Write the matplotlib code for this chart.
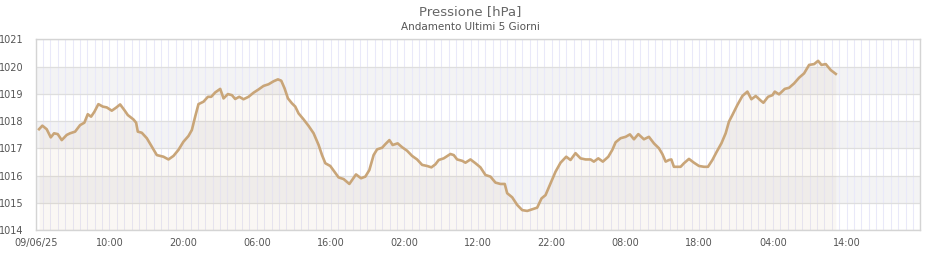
import matplotlib
matplotlib.use('Agg')
from matplotlib import pyplot as plt
import numpy as np

# ore dall'inizio (09/06/25 00:00) e pressione in hPa
ore = [0.45, 0.90, 1.49, 2.04, 2.49, 2.99, 3.53, 4.21, 4.66, 5.34, 6.02, 6.60, 7.06, 7.51, 7.96,
       8.50, 9.10, 9.64, 10.32, 10.90, 11.45, 12.03, 12.49, 13.25, 13.62, 13.85, 14.39, 15.07,
       15.75, 16.43, 17.33, 18.01, 18.69, 19.36, 20.04, 20.72, 21.18, 21.63, 22.08, 22.76, 23.36,
       23.81, 24.35, 25.03, 25.48, 26.07, 26.62, 27.06, 27.61, 28.19,
       28.87, 29.55, 30.23, 30.91, 31.59, 32.27, 32.86, 33.31, 33.76, 34.22, 34.76, 35.21, 35.66,
       36.34, 37.02, 37.70, 38.38, 38.84, 39.29, 39.96, 40.41, 41.09, 41.77, 42.55, 42.99, 43.45,
       44.13, 44.72, 45.26, 45.84, 46.31, 46.99, 47.43, 47.98, 48.42, 49.10, 49.70, 50.38, 51.06,
       51.74, 52.42, 53.10, 53.68, 54.22, 54.67,
       55.35, 56.26, 56.71, 57.17, 57.85, 58.30, 58.98, 59.66, 60.33, 61.01, 61.69, 62.37, 63.05,
       63.63, 63.96, 64.64, 65.32, 66.00, 66.68, 67.35, 68.03, 68.62, 69.16, 69.84, 70.52, 71.20,
       71.97, 72.55, 73.23, 73.91, 74.59, 75.27, 75.72, 76.32, 76.94, 77.68, 78.22, 78.67, 79.35,
       80.03, 80.61, 81.16, 81.75,
       82.51, 83.19, 83.87, 84.55, 85.01, 85.46, 85.91, 86.23, 86.58, 87.49, 87.94, 88.62, 89.30,
       89.98, 90.66, 91.20, 91.80, 92.38, 93.02, 93.60, 94.05, 94.51, 95.19, 95.87, 96.55, 97.09,
       97.68, 98.36, 98.72, 99.35, 99.95, 100.26, 100.84, 101.62, 102.20, 102.88, 103.56, 104.24,
       104.92, 105.60, 106.14, 106.60, 107.18, 107.86, 108.54]
pressione = [1017.70, 1017.83, 1017.70, 1017.40, 1017.55, 1017.52, 1017.30, 1017.49, 1017.55,
             1017.61, 1017.85, 1017.94, 1018.25, 1018.16, 1018.34, 1018.62, 1018.53, 1018.50,
             1018.38, 1018.49, 1018.61, 1018.40, 1018.22, 1018.06, 1017.94, 1017.61, 1017.57,
             1017.37, 1017.06, 1016.75, 1016.69, 1016.59, 1016.72, 1016.94, 1017.24, 1017.45,
             1017.67, 1018.16, 1018.62, 1018.71, 1018.89, 1018.89, 1019.05, 1019.18, 1018.83,
             1018.99, 1018.95, 1018.81, 1018.89, 1018.80,
             1018.89, 1019.04, 1019.16, 1019.29, 1019.35, 1019.46, 1019.53, 1019.48, 1019.20,
             1018.83, 1018.65, 1018.53, 1018.28, 1018.06, 1017.82, 1017.55, 1017.12, 1016.75,
             1016.45, 1016.35, 1016.18, 1015.93, 1015.87, 1015.69, 1015.86, 1016.04, 1015.90,
             1015.96, 1016.20, 1016.75, 1016.96, 1017.02, 1017.15, 1017.30, 1017.12, 1017.18,
             1017.04, 1016.91, 1016.72, 1016.59, 1016.39, 1016.35, 1016.30, 1016.41, 1016.57,
             1016.63, 1016.79, 1016.75, 1016.59, 1016.54, 1016.47, 1016.59, 1016.45, 1016.30,
             1016.02, 1015.96, 1015.74, 1015.69, 1015.69, 1015.35, 1015.20, 1014.92, 1014.73,
             1014.70, 1014.76, 1014.82, 1015.16, 1015.28, 1015.71, 1016.14, 1016.47, 1016.69,
             1016.57, 1016.82, 1016.63, 1016.59, 1016.59, 1016.51, 1016.63, 1016.51, 1016.69,
             1016.94, 1017.22, 1017.37, 1017.42, 1017.51, 1017.33, 1017.52,
             1017.33, 1017.42, 1017.18, 1017.00, 1016.79, 1016.51, 1016.57, 1016.59, 1016.32,
             1016.32, 1016.45, 1016.61, 1016.47, 1016.35, 1016.32, 1016.32, 1016.57, 1016.87,
             1017.18, 1017.55, 1017.98, 1018.22, 1018.59, 1018.92, 1019.08, 1018.80, 1018.92,
             1018.75, 1018.67, 1018.89, 1018.95, 1019.08, 1018.98, 1019.18, 1019.22, 1019.38,
             1019.59, 1019.75, 1020.06, 1020.09, 1020.21, 1020.06, 1020.09, 1019.87, 1019.73]

tick_ore = [0, 10, 20, 30, 40, 50, 60, 70, 80, 90, 100, 110]
tick_label = ['09/06/25', '10:00', '20:00', '06:00', '16:00', '02:00', '12:00', '22:00',
              '08:00', '18:00', '04:00', '14:00']
y_min, y_max = 1014, 1021

colore_linea = '#c9a578'

fig = plt.figure(figsize=(9.4, 2.6), dpi=100)
ax = fig.add_axes([0.038, 0.1154, 0.941, 0.7334])
ax.set_xlim(0, 120)
ax.set_ylim(y_min, y_max)

# bande alternate
for v in range(y_min, y_max):
    if (v - y_min) % 2 == 1:
        ax.axhspan(v, v + 1, color='#f3f3f4', lw=0, zorder=0)
# griglia verticale oraria
for h in range(0, 121):
    ax.axvline(h, color='#e9e9f9', lw=0.75, zorder=1)
for v in range(y_min, y_max + 1):
    ax.axhline(v, color='#dedede', lw=0.9, zorder=1)

ax.fill_between(ore, pressione, y_min, color=colore_linea, alpha=0.08, lw=0, zorder=2)
ax.plot(ore, pressione, color=colore_linea, lw=1.9, zorder=3)

ax.set_xticks(tick_ore)
ax.set_xticklabels(tick_label)
ax.set_yticks(range(y_min, y_max + 1))
ax.tick_params(length=0, labelsize=7, colors='#555555', pad=6)
ax.tick_params(axis='y', pad=9)
for s in ax.spines.values():
    s.set_color('#d4d4d4')
    s.set_linewidth(1)

fig.text(0.5, 0.955, 'Pressione [hPa]', ha='center', va='center', fontsize=9.5, color='#666666')
fig.text(0.5, 0.895, 'Andamento Ultimi 5 Giorni', ha='center', va='center', fontsize=7.5, color='#555555')

fig.savefig('out.png')
